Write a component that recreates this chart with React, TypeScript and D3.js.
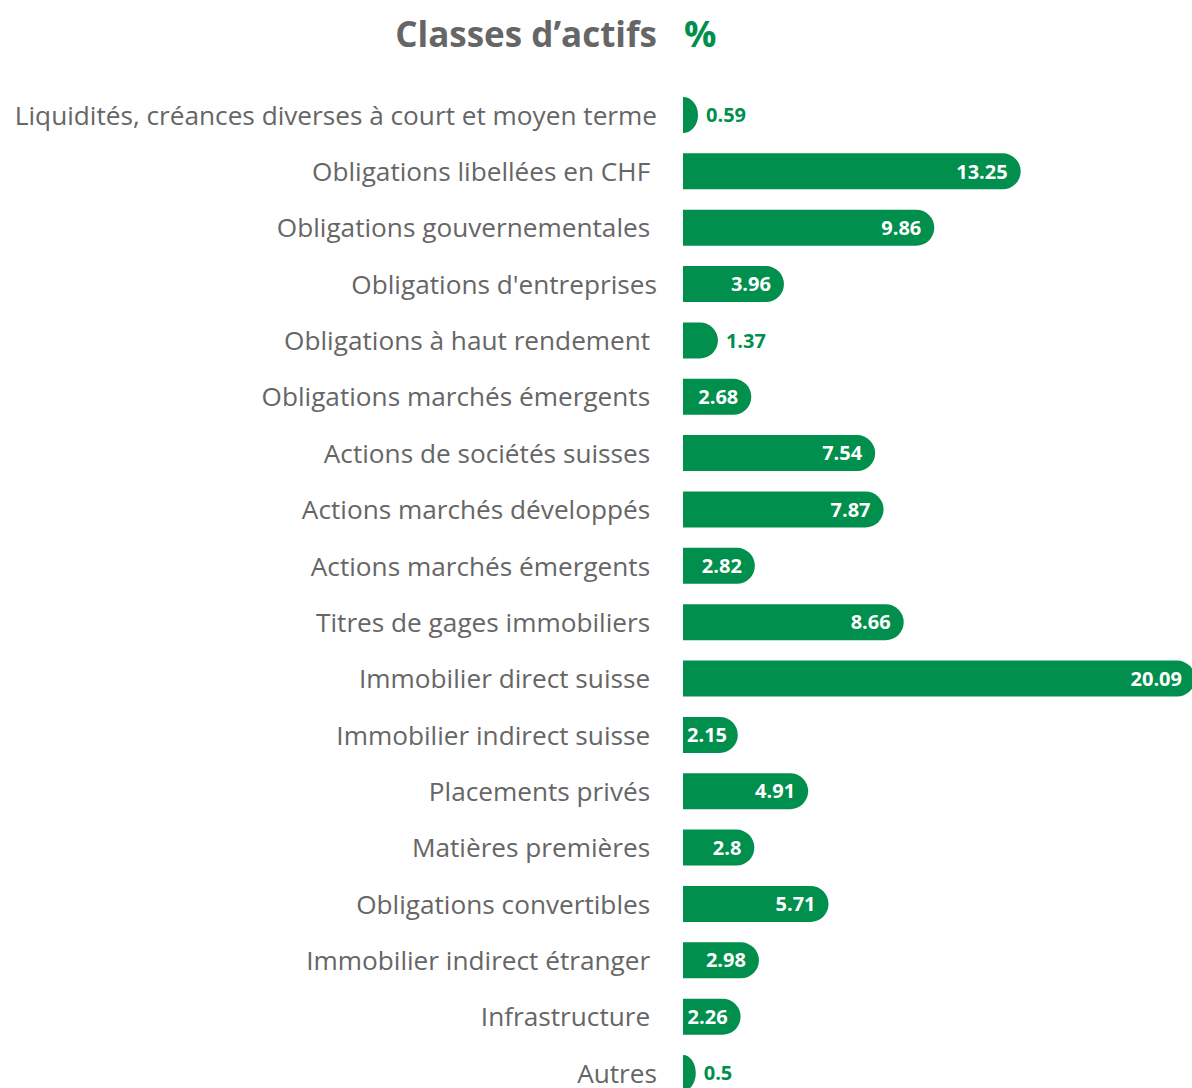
import React from "react";
import * as d3 from "d3";

const categories = [
  "Liquidités, créances diverses à court et moyen terme",
  "Obligations libellées en CHF ",
  "Obligations gouvernementales ",
  "Obligations d'entreprises",
  "Obligations à haut rendement ",
  "Obligations marchés émergents ",
  "Actions de sociétés suisses ",
  "Actions marchés développés ",
  "Actions marchés émergents ",
  "Titres de gages immobiliers ",
  "Immobilier direct suisse ",
  "Immobilier indirect suisse ",
  "Placements privés ",
  "Matières premières ",
  "Obligations convertibles ",
  "Immobilier indirect étranger ",
  "Infrastructure ",
  "Autres",
];
const values = [0.59, 13.25, 9.86, 3.96, 1.37, 2.68, 7.54, 7.87, 2.82, 8.66, 20.09, 2.15, 4.91, 2.8, 5.71, 2.98, 2.26, 0.5];
const valueLabels = ["0.59", "13.25", "9.86", "3.96", "1.37", "2.68", "7.54", "7.87", "2.82", "8.66", "20.09", "2.15", "4.91", "2.8", "5.71", "2.98", "2.26", "0.5"];
const titleText = "Classes d’actifs";
const unitText = "%";

const GREEN = "#008f4c";
const GRAY = "#666666";
const FONT = "'Open Sans', 'Noto Sans', sans-serif";

function measure(text: string, font: string) {
  const c = document.createElement("canvas").getContext("2d")!;
  c.font = font;
  return c.measureText(text).width;
}

export default function App() {
  const W = 1192, H = 1088;
  const x0 = 683;
  const x = d3.scaleLinear().domain([0, 20.09]).range([x0, 1195]);
  const y = d3.scalePoint<number>().domain(d3.range(categories.length)).range([115, 1073]);
  const bh = 36, r = 18;
  const labelX = 657;
  const valFont = `bold 20px ${FONT}`;

  const barPath = (v: number, cy: number) => {
    const w = x(v) - x0;
    const top = cy - bh / 2;
    const p = d3.path();
    if (w >= r) {
      p.moveTo(x0, top);
      p.lineTo(x0 + w - r, top);
      p.arc(x0 + w - r, cy, r, -Math.PI / 2, Math.PI / 2);
      p.lineTo(x0, top + bh);
      p.closePath();
      return p.toString();
    }
    return `M${x0},${top} A${w},${r} 0 0 1 ${x0},${top + bh} Z`;
  };

  return (
    <svg width={W} height={H} style={{ position: "absolute", left: 0, top: 0 }} fontFamily={FONT}>
      <rect width={W} height={H} fill="#ffffff" />
      <text x={labelX} y={47} textAnchor="end" fontSize={35} fontWeight="bold" fill={GRAY}>{titleText}</text>
      <text x={684} y={47} fontSize={36} fontWeight="bold" fill={GREEN}>{unitText}</text>
      {categories.map((c, i) => {
        const cy = y(i)!;
        const v = values[i];
        const end = x(v);
        const tw = measure(valueLabels[i], valFont);
        const inside = v >= 2;
        const tx = inside ? Math.max(end - 13 - tw, x0 + 4) : end + 8;
        return (
          <g key={i}>
            <text x={labelX} y={cy} dy="0.37em" textAnchor="end" fontSize={26.2} fill={GRAY} style={{ whiteSpace: "pre" }}>{c}</text>
            <path d={barPath(v, cy)} fill={GREEN} />
            <text x={tx} y={cy} dy="0.36em" fontSize={20} fontWeight="bold" fill={inside ? "#ffffff" : GREEN}>{valueLabels[i]}</text>
          </g>
        );
      })}
    </svg>
  );
}
